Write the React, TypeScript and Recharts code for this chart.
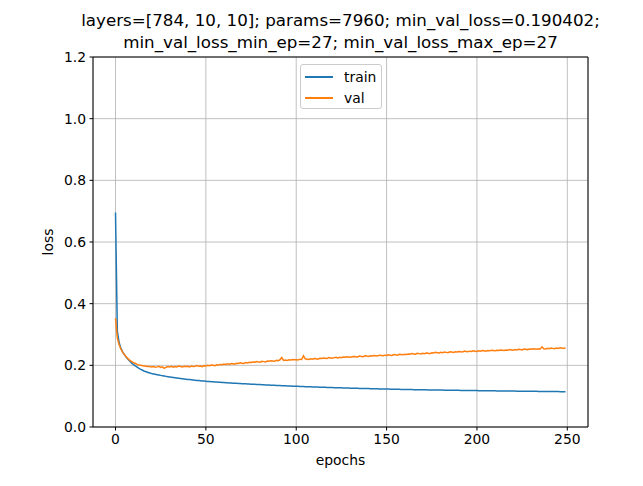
import React from 'react';
import { LineChart, Line, XAxis, YAxis, CartesianGrid, Legend, ReferenceLine } from 'recharts';

// training curves (one value per epoch, 0..249)
const trainLoss = [
  0.696, 0.312, 0.274, 0.255, 0.243, 0.234, 0.226, 0.219, 0.213, 0.207,
  0.202, 0.198, 0.194, 0.190, 0.187, 0.184, 0.181, 0.179, 0.177, 0.175,
  0.1735, 0.1722, 0.1709, 0.1697, 0.1685, 0.1674, 0.1663, 0.1652, 0.1642, 0.1632,
  0.1623, 0.1614, 0.1605, 0.1596, 0.1588, 0.1580, 0.1572, 0.1565, 0.1558, 0.1551,
  0.1544, 0.1537, 0.1530, 0.1524, 0.1518, 0.1512, 0.1506, 0.1500, 0.1495, 0.1489,
  0.1484, 0.1479, 0.1474, 0.1469, 0.1465, 0.1460, 0.1456, 0.1452, 0.1448, 0.1444,
  0.1440, 0.1436, 0.1432, 0.1429, 0.1425, 0.1422, 0.1418, 0.1415, 0.1412, 0.1409,
  0.1405, 0.1402, 0.1399, 0.1396, 0.1393, 0.1390, 0.1387, 0.1384, 0.1381, 0.1378,
  0.1375, 0.1372, 0.1369, 0.1366, 0.1363, 0.1360, 0.1357, 0.1354, 0.1351, 0.1348,
  0.1345, 0.1342, 0.1340, 0.1337, 0.1335, 0.1332, 0.1330, 0.1327, 0.1325, 0.1322,
  0.1320, 0.1318, 0.1316, 0.1313, 0.1311, 0.1309, 0.1307, 0.1305, 0.1302, 0.1300,
  0.1298, 0.1296, 0.1294, 0.1292, 0.1290, 0.1288, 0.1286, 0.1284, 0.1282, 0.1280,
  0.1278, 0.1276, 0.1274, 0.1272, 0.1271, 0.1269, 0.1267, 0.1265, 0.1263, 0.1262,
  0.1260, 0.1258, 0.1257, 0.1255, 0.1254, 0.1252, 0.1251, 0.1249, 0.1248, 0.1246,
  0.1245, 0.1243, 0.1242, 0.1240, 0.1239, 0.1237, 0.1236, 0.1234, 0.1233, 0.1231,
  0.1230, 0.1229, 0.1228, 0.1226, 0.1225, 0.1224, 0.1223, 0.1222, 0.1220, 0.1219,
  0.1218, 0.1217, 0.1216, 0.1215, 0.1214, 0.1212, 0.1211, 0.1210, 0.1209, 0.1208,
  0.1207, 0.1206, 0.1205, 0.1204, 0.1203, 0.1202, 0.1201, 0.1200, 0.1199, 0.1198,
  0.1197, 0.1196, 0.1195, 0.1194, 0.1193, 0.1192, 0.1191, 0.1190, 0.1190, 0.1189,
  0.1188, 0.1187, 0.1186, 0.1185, 0.1184, 0.1184, 0.1183, 0.1182, 0.1181, 0.1180,
  0.1180, 0.1179, 0.1178, 0.1177, 0.1176, 0.1176, 0.1175, 0.1174, 0.1173, 0.1172,
  0.1172, 0.1171, 0.1170, 0.1170, 0.1169, 0.1168, 0.1167, 0.1167, 0.1166, 0.1165,
  0.1165, 0.1164, 0.1163, 0.1163, 0.1162, 0.1161, 0.1160, 0.1160, 0.1159, 0.1158,
  0.1158, 0.1157, 0.1156, 0.1156, 0.1155, 0.1154, 0.1154, 0.1153, 0.1152, 0.1151,
  0.1151, 0.1150, 0.1150, 0.1149, 0.1148, 0.1148, 0.1147, 0.1146, 0.1146, 0.1145,
];

const valLoss = [
  0.353, 0.289, 0.267, 0.253, 0.242, 0.234, 0.227, 0.221, 0.216, 0.212,
  0.209, 0.206, 0.203, 0.201, 0.200, 0.199, 0.198, 0.197, 0.196, 0.196,
  0.195, 0.196, 0.194, 0.195, 0.197, 0.193, 0.195, 0.1904, 0.194, 0.196,
  0.195, 0.197, 0.194, 0.196, 0.195, 0.198, 0.196, 0.195, 0.197, 0.196,
  0.197, 0.195, 0.198, 0.196, 0.197, 0.199, 0.197, 0.198, 0.196, 0.199,
  0.198, 0.200, 0.199, 0.201, 0.200, 0.199, 0.202, 0.201, 0.203, 0.202,
  0.204, 0.203, 0.205, 0.203, 0.206, 0.205, 0.204, 0.207, 0.206, 0.208,
  0.207, 0.206, 0.209, 0.208, 0.210, 0.209, 0.211, 0.210, 0.212, 0.211,
  0.210, 0.213, 0.212, 0.211, 0.214, 0.213, 0.215, 0.214, 0.213, 0.216,
  0.215, 0.218, 0.225, 0.216, 0.217, 0.216, 0.218, 0.217, 0.219, 0.218,
  0.218, 0.217, 0.220, 0.219, 0.231, 0.221, 0.220, 0.219, 0.221, 0.220,
  0.222, 0.221, 0.220, 0.223, 0.222, 0.224, 0.223, 0.222, 0.225, 0.224,
  0.223, 0.225, 0.226, 0.224, 0.226, 0.225, 0.227, 0.226, 0.228, 0.227,
  0.226, 0.228, 0.229, 0.228, 0.227, 0.230, 0.229, 0.228, 0.231, 0.230,
  0.229, 0.231, 0.230, 0.232, 0.231, 0.230, 0.233, 0.232, 0.231, 0.233,
  0.232, 0.234, 0.233, 0.232, 0.235, 0.234, 0.233, 0.236, 0.235, 0.234,
  0.236, 0.235, 0.237, 0.236, 0.238, 0.237, 0.236, 0.239, 0.238, 0.237,
  0.239, 0.238, 0.240, 0.239, 0.238, 0.241, 0.240, 0.242, 0.241, 0.240,
  0.242, 0.241, 0.243, 0.242, 0.241, 0.244, 0.243, 0.242, 0.244, 0.243,
  0.245, 0.244, 0.243, 0.246, 0.245, 0.244, 0.246, 0.245, 0.247, 0.246,
  0.245, 0.247, 0.246, 0.248, 0.247, 0.246, 0.248, 0.247, 0.249, 0.248,
  0.247, 0.249, 0.248, 0.250, 0.249, 0.248, 0.250, 0.249, 0.251, 0.250,
  0.249, 0.251, 0.250, 0.252, 0.251, 0.250, 0.253, 0.252, 0.251, 0.253,
  0.252, 0.254, 0.253, 0.252, 0.254, 0.253, 0.260, 0.254, 0.253, 0.255,
  0.254, 0.256, 0.255, 0.254, 0.256, 0.255, 0.257, 0.256, 0.255, 0.257,
];

const xTicks = [0, 50, 100, 150, 200, 250];
const yTicks = [0, 0.2, 0.4, 0.6, 0.8, 1.0, 1.2];
const titleLines = [
  'layers=[784, 10, 10]; params=7960; min_val_loss=0.190402;',
  'min_val_loss_min_ep=27; min_val_loss_max_ep=27',
];

const FONT = '"DejaVu Sans", sans-serif';
const BLUE = '#1f77b4';
const ORANGE = '#ff7f0e';

const chartData = trainLoss.map((t, i) => ({ epoch: i, train: t, val: valLoss[i] }));

const LegendBox = () => (
  <div
    style={{
      width: 82,
      height: 45,
      border: '1px solid #cccccc',
      borderRadius: 3,
      background: 'rgba(255,255,255,0.8)',
      fontFamily: FONT,
      fontSize: 13.9,
      boxSizing: 'border-box',
    }}
  >
    {[
      { name: 'train', color: BLUE },
      { name: 'val', color: ORANGE },
    ].map((it, i) => (
      <div key={it.name} style={{ position: 'absolute', left: 5, top: 3 + i * 21, display: 'flex', alignItems: 'center', height: 20 }}>
        <div style={{ width: 28, height: 2, background: it.color }} />
        <span style={{ marginLeft: 11, color: '#000' }}>{it.name}</span>
      </div>
    ))}
  </div>
);

const App: React.FC = () => {
  return (
    <div style={{ position: 'absolute', left: 0, top: 0, width: 643, height: 486, background: '#fff', fontFamily: FONT }}>
      <div
        style={{
          position: 'absolute',
          left: 0,
          top: 9,
          width: 681,
          textAlign: 'center',
          fontSize: 16.7,
          lineHeight: '22px',
          color: '#000',
          whiteSpace: 'nowrap',
        }}
      >
        {titleLines.map((l) => (
          <div key={l}>{l}</div>
        ))}
      </div>
      <LineChart
        width={643}
        height={486}
        data={chartData}
        margin={{ top: 57, right: 55, bottom: 14, left: 3 }}
        style={{ position: 'absolute', left: 0, top: 0 }}
      >
        <CartesianGrid stroke="#b0b0b0" strokeWidth={0.8} />
        <XAxis
          dataKey="epoch"
          type="number"
          domain={[-12.45, 261.45]}
          ticks={xTicks}
          allowDataOverflow
          height={45}
          stroke="#000"
          tickSize={3.5}
          tickMargin={3.5}
          tick={{ fill: '#000', fontSize: 13.9, fontFamily: FONT }}
          label={{ value: 'epochs', position: 'insideBottom', offset: 7, fill: '#000', fontSize: 13.9, fontFamily: FONT }}
        />
        <YAxis
          type="number"
          domain={[0, 1.2]}
          ticks={yTicks}
          allowDataOverflow
          width={90}
          stroke="#000"
          tickSize={3.5}
          tickMargin={3.5}
          tickFormatter={(v: number) => v.toFixed(1)}
          tick={{ fill: '#000', fontSize: 13.9, fontFamily: FONT }}
          label={{ value: 'loss', angle: -90, position: 'center', fill: '#000', fontSize: 13.9, fontFamily: FONT }}
        />
        <ReferenceLine y={1.2} stroke="#000" strokeWidth={1} />
        <ReferenceLine x={261.45} stroke="#000" strokeWidth={1} />
        <Line type="linear" dataKey="train" name="train" stroke={BLUE} strokeWidth={1.5} dot={false} isAnimationActive={false} />
        <Line type="linear" dataKey="val" name="val" stroke={ORANGE} strokeWidth={1.5} dot={false} isAnimationActive={false} />
        <Legend
          layout="horizontal"
          verticalAlign="middle"
          align="center"
          content={() => <LegendBox />}
          wrapperStyle={{ left: 300, top: 64, width: 82, height: 45 }}
        />
      </LineChart>
    </div>
  );
};

export default App;
